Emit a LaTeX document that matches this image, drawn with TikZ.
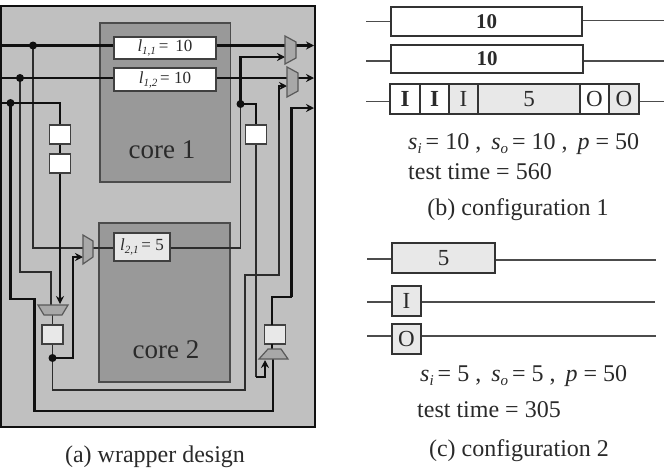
\documentclass[tikz,border=0pt]{standalone}
\usepackage{fontspec}
\setmainfont{Liberation Serif}
\usetikzlibrary{arrows.meta,calc}
\definecolor{wrapgray}{HTML}{C0C0C0}
\definecolor{coregray}{HTML}{999999}
\definecolor{muxgray}{HTML}{A8A8A8}
\definecolor{lightcell}{HTML}{E8E8E8}
\definecolor{wireblack}{HTML}{101010}
\definecolor{wiregray}{HTML}{2C2C2C}
\definecolor{inkgray}{HTML}{2A2A2A}
\newcommand{\lsub}[2]{\textit{l}\raisebox{-3pt}{\fontsize{11}{11}\selectfont\textit{#1}}\,#2}
\newcommand{\vsub}[2]{\textit{#1}\raisebox{-4pt}{\fontsize{15}{15}\selectfont\textit{#2}}}
\tikzset{
  wrapperbox/.style={draw=wireblack,line width=2pt,fill=wrapgray},
  corebox/.style={draw=black!70,line width=1.6pt,fill=coregray,inner sep=0pt},
  scanbox/.style={draw=black!75,line width=1.5pt,fill=white,inner sep=0pt,text=inkgray,font=\fontsize{17}{17}\selectfont},
  regbox/.style={draw=black!75,line width=1.3pt,fill=white,inner sep=0pt,minimum width=21pt,minimum height=19pt},
  thick wire/.style={draw=wireblack,line width=2.2pt},
  thin wire/.style={draw=wiregray,line width=1.7pt},
  arrowed/.style={-{Stealth[length=8pt,width=8pt]}},
  junction/.style={circle,fill=wireblack,inner sep=0pt,minimum size=8pt},
  muxshape/.style={draw=black!65,line width=1.2pt,fill=muxgray},
  barbox/.style={draw=black!80,line width=1.6pt,fill=white,inner sep=0pt,minimum height=29pt,text=inkgray,font=\fontsize{23}{23}\selectfont},
  shadedbar/.style={barbox,fill=lightcell},
  tline/.style={draw=black!70,line width=1.6pt},
  label text/.style={inner sep=0pt,text=inkgray,font=\fontsize{24}{24}\selectfont,anchor=west},
  caption text/.style={inner sep=0pt,text=inkgray,font=\fontsize{24}{24}\selectfont},
  core text/.style={inner sep=0pt,text=inkgray,font=\fontsize{27}{27}\selectfont},
}
\begin{document}
\begin{tikzpicture}[x=1pt,y=-1pt]
\useasboundingbox (0,0) rectangle (668,472);
\fill[white] (0,0) rectangle (668,472);
% wrapper
\node[wrapperbox,inner sep=0pt,minimum width=314pt,minimum height=421pt] (wrapper) at (158,216.5) {};
% cores
\node[corebox,minimum width=130.5pt,minimum height=159pt] (core1) at (165.2,102.5) {};
\node[corebox,minimum width=131pt,minimum height=159pt] (core2) at (164.5,302.5) {};
\node[core text] (core1t) at (162,149.5) {core 1};
\node[core text] (core2t) at (166,349.5) {core 2};
% scan chains
\node[scanbox,minimum width=102pt,minimum height=22pt] (l11) at (165,48) {\lsub{1,1}{= \,10}};
\node[scanbox,minimum width=102pt,minimum height=23pt] (l12) at (165,79.5) {\lsub{1,2}{= 10}};
\node[scanbox,fill=lightcell,minimum width=56pt,minimum height=28pt] (l21) at (142,247) {\lsub{2,1}{= 5}};
% registers
\node[regbox] (ra) at (60,134.5) {};
\node[regbox] (rb) at (60,163.5) {};
\node[regbox] (rc) at (256,134.5) {};
\node[regbox,fill=lightcell] (rd) at (52.5,334.5) {};
\node[regbox,fill=lightcell] (re) at (275,334.5) {};
% coordinates
\coordinate (inA) at (1,45.5);
\coordinate (inB) at (1,78);
\coordinate (inC) at (1,103);
\coordinate (jA) at (33,45.5);
\coordinate (jB) at (20,78);
\coordinate (jC) at (10.5,103);
\coordinate (jD) at (240.5,104);
\coordinate (jE) at (52.5,358);
\coordinate (muxAin) at (285,45.5);
\coordinate (muxAin2) at (285,57);
\coordinate (muxBin) at (287,78);
\coordinate (muxBin2) at (287,86);
\coordinate (muxAout) at (296,45.5);
\coordinate (muxBout) at (298,78);
\coordinate (outA) at (314,45.5);
\coordinate (outB) at (314,78);
\coordinate (outC) at (314,108);
\coordinate (muxCin) at (83,248);
\coordinate (muxCin2) at (83,257);
\coordinate (muxCout) at (93,248);
\coordinate (muxDa) at (51,305);
\coordinate (muxDout) at (52.5,315);
\coordinate (muxEa) at (265,360);
\coordinate (muxEb) at (273,359);
\coordinate (muxEout) at (272,349);
% thin grey wires
\draw[thin wire] (jA) |- (muxCin);
\draw[thin wire] (muxCout) -- (muxCout -| l21.west);
\draw[thin wire] (jB) |- (51,272) -- (muxDa);
\draw[thin wire] (l21.east |- muxCin) -- (240.5,248) -- (jD);
\draw[thin wire] (jE) -- (52.5,390) -- (245,390) -- (245,275) -- (279,275) -- (279,120);
\draw[thin wire] (rc.south) -- (256,377);
\draw[thin wire] (rd.south) -- (jE);
\draw[thin wire] (muxDout) -- (rd.north);
% thick black wires
\draw[thick wire] (inA) -- (inA -| l11.west);
\draw[thick wire] (inB) -- (inB -| l12.west);
\draw[thick wire] (inC) -- (ra.north |- inC) -- (ra.north);
\draw[thick wire] (ra.south) -- (rb.north);
\draw[thick wire,arrowed] (rb.south) -- (60,304);
\draw[thick wire] (jC) |- (34.5,299) -- (34.5,411) -- (273,411) -- (muxEb);
\draw[thick wire] (l11.east |- inA) -- (muxAin);
\draw[thick wire] (l12.east |- inB) -- (muxBin);
\draw[thick wire,arrowed] (muxAout) -- (outA);
\draw[thick wire,arrowed] (muxBout) -- (outB);
\draw[thick wire,arrowed] (jD) -- (240.5,57) -- (muxAin2);
\draw[thick wire] (jD) -- (rc.north |- jD) -- (rc.north);
\draw[thick wire,arrowed] (279,120) -- (279,86) -- (muxBin2);
\draw[thick wire,arrowed] (291.5,297) -- (291.5,108) -- (outC);
\draw[thick wire] (291.5,297) -- (272,297) -- (272,325);
\draw[thick wire,arrowed] (256,377) -- (265,377) -- (muxEa);
\draw[thick wire,arrowed] (jE) -- (73,358) -- (73,257) -- (muxCin2);
\draw[thick wire] (272,344) -- (muxEout);
% multiplexers
\draw[muxshape] (285,36) -- (296,42) -- (296,58) -- (285,64) -- cycle;
\draw[muxshape] (287,67) -- (298,73) -- (298,91) -- (287,97) -- cycle;
\draw[muxshape] (83,235) -- (93,241) -- (93,257) -- (83,264) -- cycle;
\draw[muxshape] (38,305) -- (68,305) -- (62,315) -- (44,315) -- cycle;
\draw[muxshape] (268,349) -- (281,349) -- (288,359) -- (259,359) -- cycle;
% junctions
\node[junction] (dA) at (jA) {};
\node[junction] (dB) at (jB) {};
\node[junction] (dC) at (jC) {};
\node[junction] (dD) at (jD) {};
\node[junction] (dE) at (jE) {};
% configuration 1
\node[barbox,minimum width=191pt] (b1) at (486.5,21.5) {\raisebox{-1.5pt}{\fontsize{21}{21}\selectfont\bfseries 10}};
\node[barbox,minimum width=192pt,minimum height=28pt] (b2) at (487,59) {\fontsize{21}{21}\selectfont\bfseries 10};
\coordinate (b1L) at (366,21.5); \coordinate (b1R) at (664,20.5);
\coordinate (b2L) at (366,61); \coordinate (b2R) at (664,61);
\draw[tline] (b1L) -- (b1.west |- b1L);
\draw[tline] (b1.east |- b1R) -- (b1R);
\draw[tline] (b2L) -- (b2.west |- b2L);
\draw[tline] (b2.east |- b2R) -- (b2R);
\node[barbox,minimum width=29.5pt,minimum height=30pt] (c1) at (405,99) {\bfseries I};
\node[barbox,minimum width=29pt,minimum height=30pt] (c2) at (434.5,99) {\bfseries I};
\node[shadedbar,minimum width=29pt,minimum height=30pt] (c3) at (463.5,99) {I};
\node[shadedbar,minimum width=102pt,minimum height=30pt] (c4) at (529,99) {5};
\node[barbox,minimum width=29pt,minimum height=30pt] (c5) at (594.5,99) {O};
\node[shadedbar,minimum width=30pt,minimum height=30pt] (c6) at (624,99) {O};
\coordinate (c1L) at (366,101.5); \coordinate (c6R) at (664,101.5);
\draw[tline] (c1L) -- (c1.west |- c1L);
\draw[tline] (c6.east |- c6R) -- (c6R);
\node[label text] (f1) at (408,144) {\vsub{s}{i}\,= 10 , \,\vsub{s}{o}\,= 10 , \,\textit{p} = 50};
\node[label text] (f2) at (408,172) {test time = 560};
\node[caption text] (capb) at (518,209.5) {(b) configuration 1};
% configuration 2
\node[shadedbar,minimum width=103pt,minimum height=30pt] (d1) at (443.5,258) {5};
\node[shadedbar,minimum width=29pt,minimum height=30pt] (d2) at (406.5,301) {I};
\node[shadedbar,minimum width=29pt,minimum height=30pt] (d3) at (406.5,339) {O};
\coordinate (d1L) at (367,259); \coordinate (d1R) at (656,260);
\coordinate (d2L) at (367,302); \coordinate (d2R) at (655,302);
\coordinate (d3L) at (367,336); \coordinate (d3R) at (656,336);
\draw[tline] (d1L) -- (d1.west |- d1L);
\draw[tline] (d1.east |- d1R) -- (d1R);
\draw[tline] (d2L) -- (d2.west |- d2L);
\draw[tline] (d2.east |- d2R) -- (d2R);
\draw[tline] (d3L) -- (d3.west |- d3L);
\draw[tline] (d3.east |- d3R) -- (d3R);
\node[label text] (g1) at (420,376.5) {\vsub{s}{i}\,= 5 , \,\vsub{s}{o}\,= 5 , \,\textit{p} = 50};
\node[label text] (g2) at (417,410) {test time = 305};
\node[caption text] (capc) at (519,451) {(c) configuration 2};
\node[caption text] (capa) at (155,457) {(a) wrapper design};
\end{tikzpicture}
\end{document}
